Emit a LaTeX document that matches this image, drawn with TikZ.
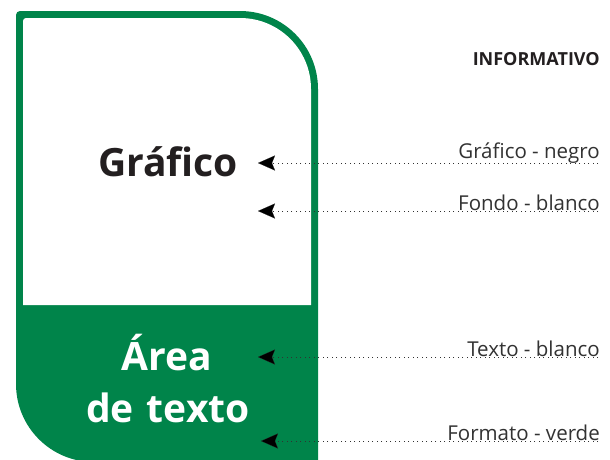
\documentclass[tikz,border=0pt]{standalone}
\usepackage{fontspec}
\setmainfont{Open Sans}
\usetikzlibrary{arrows.meta}
\definecolor{fgreen}{RGB}{0,132,74}
\definecolor{dtext}{RGB}{35,31,32}
\definecolor{ltext}{RGB}{50,50,50}
\begin{document}
\begin{tikzpicture}[x=1pt,y=-1pt,
  bigtxt/.style={font=\fontsize{39}{44}\selectfont\bfseries, inner sep=0pt, anchor=base},
  lbl/.style={font=\fontsize{20.5}{24}\selectfont, text=ltext, inner sep=0pt, anchor=base east},
  pointer/.style={draw=ltext, line width=1pt, dash pattern=on 1pt off 3.5pt,
    -{Stealth[length=17pt,width=15pt,inset=3pt,fill=black,line width=0.1pt]}}]
\clip (0,0) rectangle (610,459);
\fill[white] (0,0) rectangle (610,459);
% outer green shape
\fill[fgreen] (16,15) arc[start angle=180,end angle=270,radius=4] -- (240,11)
  arc[start angle=-90,end angle=0,radius=78] -- (318,470) -- (94,462)
  arc[start angle=90,end angle=180,radius=78] -- cycle;
% inner white area
\fill[white] (23,21) arc[start angle=180,end angle=270,radius=3] -- (240,18)
  arc[start angle=-90,end angle=0,radius=71] -- (311,305) -- (23,305) -- cycle;
% texts in shape
\node[bigtxt, text=dtext] (graf) at (168,176) {Gráfico};
\node[bigtxt, text=white] (area) at (167,370) {Área};
\node[bigtxt, text=white] (detx) at (168,422) {de\,\,texto};
% labels
\node[font=\fontsize{18}{20}\selectfont\bfseries, text=dtext, inner sep=0pt, anchor=base east] (info) at (600,65) {INFORMATIVO};
\node[lbl] (l1) at (600,158) {Gráfico - negro};
\node[lbl] (l2) at (600,210) {Fondo - blanco};
\node[lbl] (l3) at (600,356) {Texto - blanco};
\node[lbl] (l4) at (600,440) {Formato - verde};
% targets
\coordinate (t1) at (258,163);
\coordinate (t2) at (258,211);
\coordinate (t3) at (258,357);
\coordinate (t4) at (261,441);
\coordinate (s1) at (598,163);
\coordinate (s2) at (598,211);
\coordinate (s3) at (598,357);
\coordinate (s4) at (598,441);
\draw[pointer] (s1) -- (t1);
\draw[pointer] (s2) -- (t2);
\draw[pointer] (s3) -- (t3);
\draw[pointer] (s4) -- (t4);
\end{tikzpicture}
\end{document}
